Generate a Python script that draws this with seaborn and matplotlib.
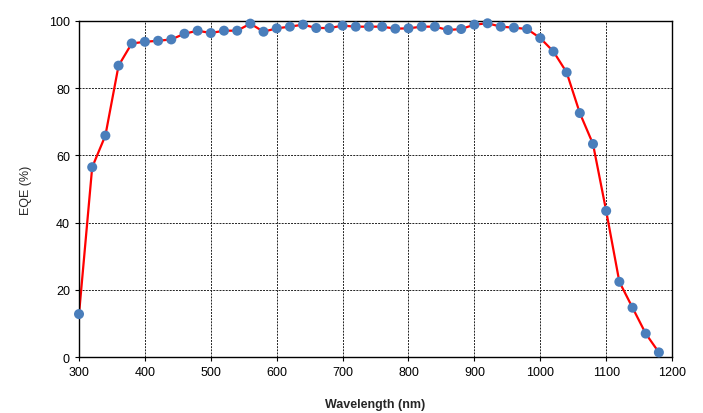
import matplotlib

matplotlib.use("Agg")
import matplotlib.pyplot as plt
import pandas as pd
import seaborn as sns

# %% data

wavelength = [300, 320, 340, 360, 380, 400, 420, 440, 460, 480,
              500, 520, 540, 560, 580, 600, 620, 640, 660, 680,
              700, 720, 740, 760, 780, 800, 820, 840, 860, 880,
              900, 920, 940, 960, 980, 1000, 1020, 1040, 1060, 1080,
              1100, 1120, 1140, 1160, 1180]
eqe = [12.8, 56.5, 65.9, 86.7, 93.3, 93.8, 94.1, 94.5, 96.2, 97.1,
       96.4, 97.1, 97.1, 99.2, 96.8, 97.8, 98.3, 98.9, 97.9, 97.9,
       98.6, 98.3, 98.3, 98.3, 97.7, 97.8, 98.3, 98.3, 97.3, 97.6,
       98.9, 99.3, 98.3, 98.0, 97.6, 94.9, 90.9, 84.7, 72.6, 63.4,
       43.5, 22.4, 14.7, 7.0, 1.4]

df = pd.DataFrame({"wavelength": wavelength, "eqe": eqe})

# %% plot

sns.set_style("ticks")
plt.rcParams["font.family"] = ["Liberation Sans", "DejaVu Sans"]

fig = plt.figure(figsize=(7.03, 4.14), dpi=100)
ax = fig.add_axes([0.1124, 0.135, 0.8436, 0.812])

sns.lineplot(data=df, x="wavelength", y="eqe", color="#ff0000", linewidth=1.6, ax=ax, zorder=2)
sns.scatterplot(data=df, x="wavelength", y="eqe", color="#4a7ebb", s=52, edgecolor="none",
                ax=ax, zorder=3, clip_on=False)

ax.set_xlim(300, 1200)
ax.set_ylim(0, 100)
ax.set_xticks(range(300, 1201, 100))
ax.set_yticks(range(0, 101, 20))
ax.grid(True, color="#222222", linestyle=(0, (2, 1.2)), linewidth=0.7)
for s in ax.spines.values():
    s.set_color("black")
    s.set_linewidth(1.0)
ax.tick_params(labelsize=9, length=3, width=0.8, color="black", labelcolor="black")

ax.set_xlabel("Wavelength (nm)", fontsize=9, fontweight="bold", labelpad=14)
ax.set_ylabel("EQE (%)", fontsize=9, labelpad=12)

fig.savefig("out.png", facecolor="w", dpi=100)
